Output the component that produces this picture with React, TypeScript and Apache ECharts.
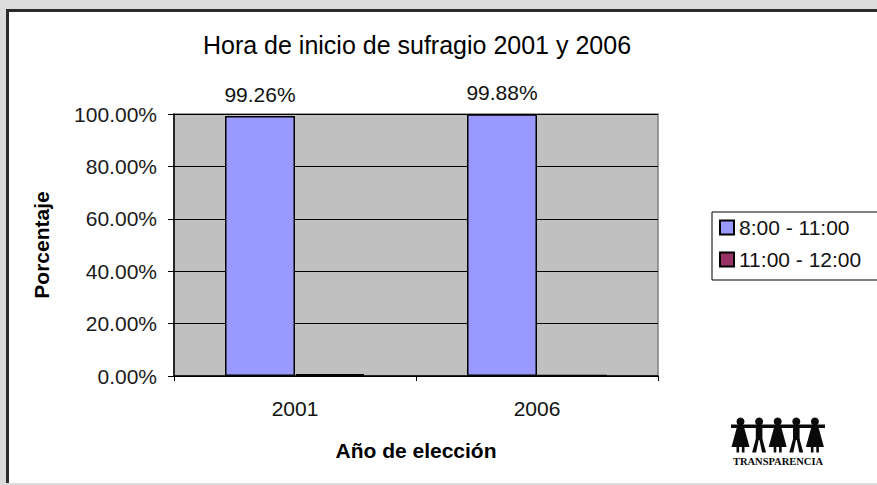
import React, { useEffect, useRef } from "react";
import * as echarts from "echarts";

const categories = ["2001", "2006"];
const seriesNames = ["8:00 - 11:00", "11:00 - 12:00"];
const morning = [99.26, 99.88];
const late = [0.74, 0.12];
const yTicks = [0, 20, 40, 60, 80, 100];

const FONT = "'Liberation Sans', Arial, sans-serif";

function logoElements(): any[] {
  const els: any[] = [];
  const kinds = ["dress", "legs", "dress", "legs", "dress"];
  const x0 = 740.5;
  const step = 18.6;
  const ink = "#0a0a0a";
  els.push({ type: "rect", shape: { x: 731, y: 424.5, width: 94, height: 3.4 }, style: { fill: ink } });
  kinds.forEach((k, i) => {
    const cx = x0 + step * i;
    els.push({ type: "circle", shape: { cx, cy: 421.5, r: 4 }, style: { fill: ink } });
    if (k === "dress") {
      els.push({
        type: "polygon",
        shape: { points: [[cx - 3, 425], [cx + 3, 425], [cx + 9, 447], [cx - 9, 447]] },
        style: { fill: ink },
      });
      els.push({ type: "rect", shape: { x: cx - 4, y: 446, width: 2.6, height: 6.5 }, style: { fill: ink } });
      els.push({ type: "rect", shape: { x: cx + 1.4, y: 446, width: 2.6, height: 6.5 }, style: { fill: ink } });
    } else {
      els.push({ type: "rect", shape: { x: cx - 3.3, y: 425, width: 6.6, height: 15 }, style: { fill: ink } });
      els.push({
        type: "polygon",
        shape: { points: [[cx - 3.3, 439], [cx - 0.2, 439], [cx - 3, 452.5], [cx - 7, 452.5]] },
        style: { fill: ink },
      });
      els.push({
        type: "polygon",
        shape: { points: [[cx + 0.2, 439], [cx + 3.3, 439], [cx + 7, 452.5], [cx + 3, 452.5]] },
        style: { fill: ink },
      });
    }
  });
  els.push({
    type: "text",
    x: 778,
    y: 461.5,
    style: {
      text: "TRANSPARENCIA",
      fill: ink,
      font: "bold 10.5px 'Liberation Serif', 'Times New Roman', serif",
      textAlign: "center",
      textVerticalAlign: "middle",
    },
  });
  return els;
}

export default function App() {
  const ref = useRef<HTMLDivElement>(null);
  useEffect(() => {
    if (!ref.current) return;
    const chart = echarts.init(ref.current, undefined, { renderer: "svg" });
    chart.setOption({
      animation: false,
      backgroundColor: "transparent",
      textStyle: { fontFamily: FONT },
      title: {
        text: "Hora de inicio de sufragio 2001 y 2006",
        left: 412,
        top: 27,
        textAlign: "center",
        textStyle: { fontFamily: FONT, fontSize: 25, fontWeight: "normal", color: "#000" },
      },
      grid: {
        left: 174,
        top: 114,
        width: 484,
        height: 262,
        show: true,
        backgroundColor: "#c0c0c0",
        borderColor: "#808080",
        borderWidth: 1.5,
      },
      legend: {
        orient: "vertical",
        left: 717,
        top: 215,
        itemWidth: 14,
        itemHeight: 14,
        itemGap: 11,
        padding: [2, 2],
        icon: "rect",
        data: seriesNames,
        textStyle: { fontFamily: FONT, fontSize: 21, color: "#111", padding: [0, 0, 0, 0] },
      },
      xAxis: {
        type: "category",
        data: categories,
        name: "Año de elección",
        nameLocation: "middle",
        nameGap: 64,
        nameTextStyle: { fontFamily: FONT, fontSize: 21, fontWeight: "bold", color: "#000" },
        axisLine: { lineStyle: { color: "#000", width: 1.5 } },
        axisTick: { show: true, alignWithLabel: false, length: 5, lineStyle: { color: "#000" } },
        axisLabel: { fontFamily: FONT, fontSize: 21, color: "#111", margin: 22 },
      },
      yAxis: {
        type: "value",
        min: 0,
        max: 100,
        interval: 20,
        name: "Porcentaje",
        nameLocation: "middle",
        nameRotate: 90,
        nameGap: 122,
        nameTextStyle: { fontFamily: FONT, fontSize: 21, fontWeight: "bold", color: "#000" },
        axisLine: { show: true, lineStyle: { color: "#000", width: 1.5 } },
        axisTick: { show: true, length: 6, lineStyle: { color: "#000" } },
        axisLabel: {
          fontFamily: FONT,
          fontSize: 21,
          color: "#1a1a1a",
          margin: 17,
          formatter: (v: number) => (yTicks.includes(v) ? v.toFixed(2) + "%" : ""),
        },
        splitLine: { show: true, lineStyle: { color: "#000", width: 1 } },
      },
      graphic: [
        {
          type: "rect",
          shape: { x: 712, y: 212, width: 200, height: 68 },
          style: { fill: "#fff", stroke: "#000", lineWidth: 1 },
          z: 0,
        },
        ...logoElements(),
      ],
      series: [
        {
          name: seriesNames[0],
          type: "bar",
          data: morning,
          barWidth: 70,
          barGap: "0%",
          itemStyle: { color: "#9999ff", borderColor: "#000", borderWidth: 1.5 },
          label: {
            show: true,
            position: "top",
            distance: 11,
            fontFamily: FONT,
            fontSize: 21,
            color: "#111",
            formatter: (p: any) => p.value.toFixed(2) + "%",
          },
        },
        {
          name: seriesNames[1],
          type: "bar",
          data: late,
          barWidth: 70,
          barGap: "0%",
          itemStyle: { color: "#993366", borderColor: "#000", borderWidth: 2 },
        },
      ],
    });
    return () => chart.dispose();
  }, []);

  return (
    <div style={{ position: "fixed", left: 0, top: 0, width: 877, height: 485, background: "#dcdcdc", overflow: "hidden" }}>
      <div
        style={{
          position: "absolute",
          left: 6,
          top: 9,
          width: 880,
          height: 474,
          background: "#fff",
          borderLeft: "3px solid #2b2b2b",
          borderTop: "3px solid #2b2b2b",
          boxSizing: "border-box",
        }}
      />
      <div ref={ref} style={{ position: "absolute", left: 0, top: 0, width: 877, height: 485 }} />
    </div>
  );
}
